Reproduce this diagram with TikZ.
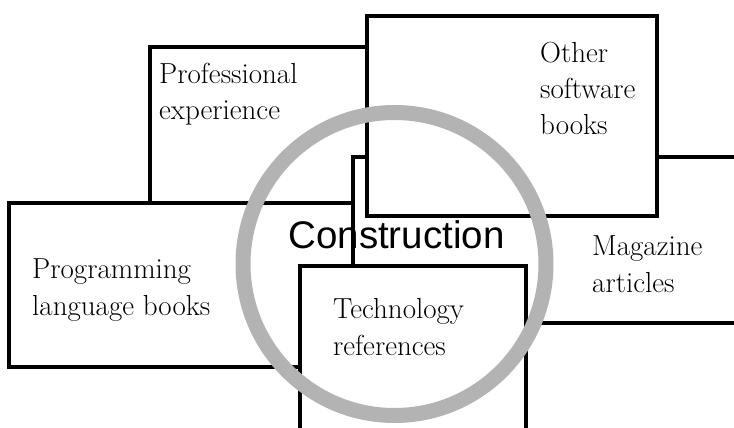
\documentclass[tikz,border=0pt]{standalone}
\usepackage{fontspec}
\newfontfamily\constrfont{Liberation Sans}
\usepackage{tikz}
\usetikzlibrary{positioning}
\definecolor{ringgray}{RGB}{179,179,179}
\tikzset{
  box/.style={draw=black, fill=white, line width=3.6pt},
  lbl/.style={inner sep=0pt, anchor=base west, align=left, font=\fontsize{29}{36.5}\selectfont},
  ring/.style={circle, draw=ringgray, line width=15pt, minimum size=303pt, inner sep=0pt}
}
\begin{document}
\begin{tikzpicture}[x=1pt,y=-1pt]
\useasboundingbox (0,0) rectangle (734,428);
\clip (0,0) rectangle (734,428);
\draw[box] (150,47) rectangle (380,215);
\draw[box] (9,203) rectangle (370,367);
\draw[box] (353,157) rectangle (760,323);
\draw[box] (367,16) rectangle (657,216);
\draw[box] (300,266) rectangle (526,460);
\node[ring] (loop) at (394.5,264) {};
\node[inner sep=0pt, anchor=base, font=\constrfont\fontsize{38.5}{40}\selectfont] (constr) at (396.5,248) {Construction};
\node[lbl] (prof) at (159,120) {Professional\\experience};
\node[lbl] (other) at (540,135) {Other\\software\\books};
\node[lbl] (mag) at (592,292) {Magazine\\articles};
\node[lbl] (prog) at (32,315) {Programming\\language books};
\node[lbl] (tech) at (333,355) {Technology\\references};
\end{tikzpicture}
\end{document}
